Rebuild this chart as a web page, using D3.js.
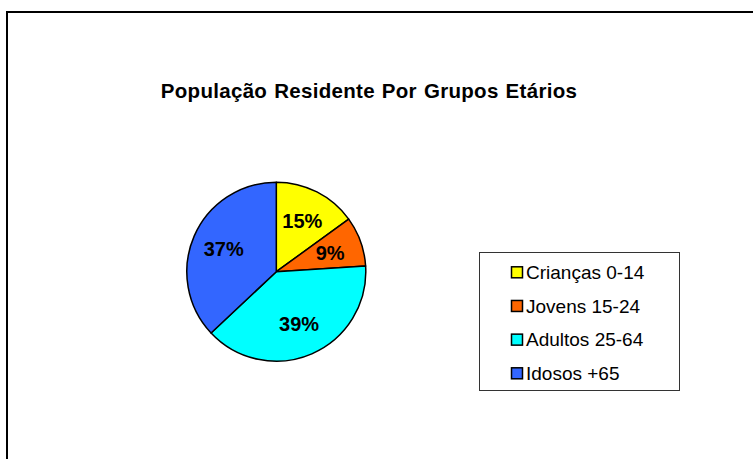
<!DOCTYPE html>
<html>
<head>
<meta charset="utf-8">
<script src="https://cdn.jsdelivr.net/npm/d3@7"></script>
<style>
html,body{margin:0;padding:0;background:#fff;}
svg{display:block;}
</style>
</head>
<body>
<svg id="chart" width="753" height="459"></svg>
<script>
const categories = ["Crianças 0-14", "Jovens 15-24", "Adultos 25-64", "Idosos +65"];
const values = [15, 9, 39, 37];
const colors = ["#FFFF00", "#FF6600", "#00FFFF", "#3366FF"];
const title = "População Residente Por Grupos Etários";

const svg = d3.select("#chart");
const W = 753, H = 459;
const font = "'Liberation Sans', Arial, sans-serif";

// outer chart frame
svg.append("rect")
  .attr("x", 7).attr("y", 12)
  .attr("width", W + 20).attr("height", H + 20)
  .attr("fill", "#fff").attr("stroke", "#000").attr("stroke-width", 2);

// title
svg.append("text")
  .attr("x", 369).attr("y", 97.5)
  .attr("text-anchor", "middle")
  .attr("font-family", font).attr("font-weight", "bold")
  .attr("font-size", 20.5)
  .attr("letter-spacing", 0.3)
  .attr("word-spacing", 1)
  .attr("fill", "#000")
  .text(title);

// pie
const cx = 276.3, cy = 271.7, r = 89.5;
const data = categories.map((c, i) => ({ name: c, value: values[i], color: colors[i] }));
const pie = d3.pie().value(d => d.value).sort(null);
const arcs = pie(data);
const arc = d3.arc().innerRadius(0).outerRadius(r);
const labelArc = d3.arc().innerRadius(r * 0.64).outerRadius(r * 0.64);
const total = d3.sum(values);

const g = svg.append("g").attr("transform", `translate(${cx},${cy})`);
g.selectAll("path.slice").data(arcs).enter().append("path")
  .attr("class", "slice")
  .attr("d", arc)
  .attr("fill", d => d.data.color)
  .attr("stroke", "#000").attr("stroke-width", 1.5)
  .attr("stroke-linejoin", "round");

g.selectAll("text.lbl").data(arcs).enter().append("text")
  .attr("class", "lbl")
  .attr("transform", d => `translate(${labelArc.centroid(d)})`)
  .attr("text-anchor", "middle")
  .attr("dy", "0.36em")
  .attr("font-family", font).attr("font-weight", "bold")
  .attr("font-size", 20)
  .attr("fill", "#000")
  .text(d => Math.round(d.data.value / total * 100) + "%");

// legend
const lx = 479.5, ly = 252.5, lw = 200, lh = 138;
svg.append("rect")
  .attr("x", lx).attr("y", ly).attr("width", lw).attr("height", lh)
  .attr("fill", "#fff").attr("stroke", "#333").attr("stroke-width", 1);

const rowY = d3.scalePoint().domain(categories).range([272.3, 373.3]);
const lg = svg.append("g");
const items = lg.selectAll("g.item").data(data).enter().append("g").attr("class", "item")
  .attr("transform", d => `translate(0,${rowY(d.name)})`);
items.append("rect")
  .attr("x", 511.5).attr("y", -5.5).attr("width", 11).attr("height", 11)
  .attr("fill", d => d.color).attr("stroke", "#000").attr("stroke-width", 1.5);
items.append("text")
  .attr("x", 526).attr("y", 0).attr("dy", "0.36em")
  .attr("font-family", font).attr("font-size", 19)
  .attr("fill", "#000")
  .text(d => d.name);
</script>
</body>
</html>
